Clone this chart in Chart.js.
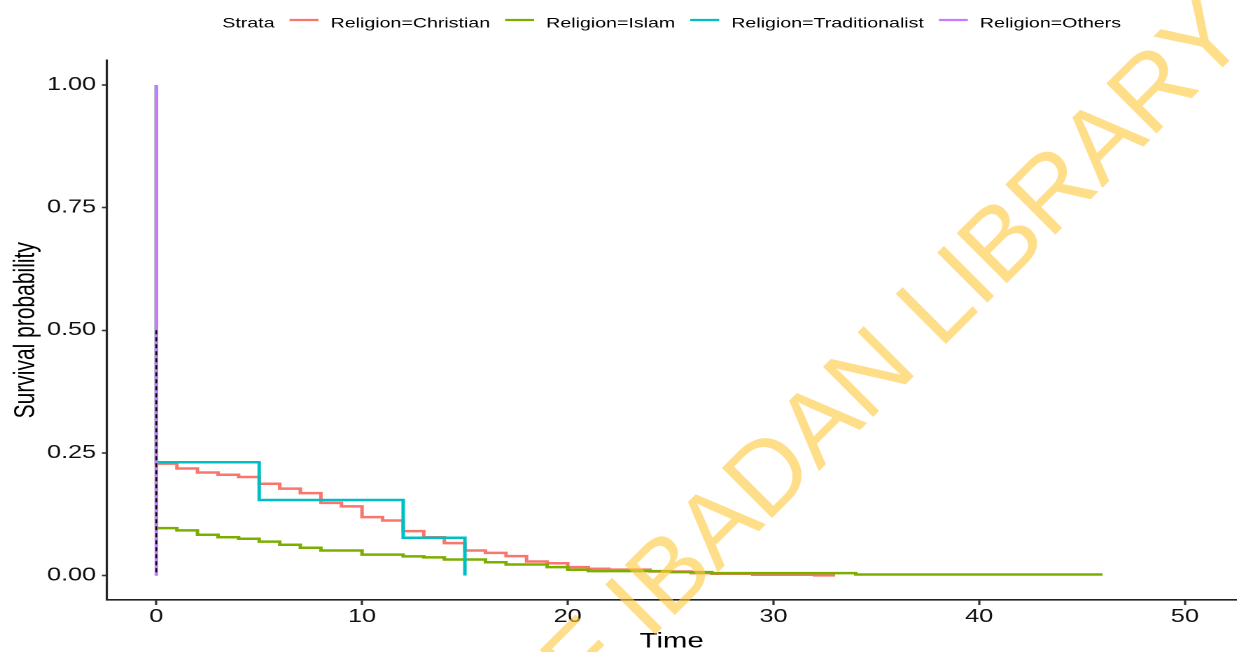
<!DOCTYPE html>
<html><head><meta charset="utf-8">
<script src="https://cdn.jsdelivr.net/npm/chart.js@4.4.1/dist/chart.umd.min.js"></script>
<style>
html,body{margin:0;padding:0;background:#fff;overflow:hidden;width:1238px;height:652px;}
#wrap{position:absolute;left:0;top:0;width:884.2857px;height:652px;transform:scaleX(1.4);transform-origin:0 0;}
</style></head><body>
<div id="wrap"><canvas id="c"></canvas></div>
<script>
// ---- data ----
const seriesNames = ['Religion=Christian', 'Religion=Islam', 'Religion=Traditionalist', 'Religion=Others'];
const seriesColors = ['#F8766D', '#7CAE00', '#00BFC4', '#C77CFF'];
const legendTitle = 'Strata';

const christianTime = [0, 0, 1, 2, 3, 4, 5, 6, 7, 8, 9, 10, 11, 12, 13, 14, 15, 16, 17, 18, 19, 20, 21, 22, 24, 26, 27, 29, 32, 33];
const christianSurv = [1, 0.228, 0.218, 0.210, 0.2055, 0.2007, 0.187, 0.177, 0.168, 0.148, 0.141, 0.119, 0.112, 0.0905, 0.078, 0.066, 0.051, 0.046, 0.0394, 0.0286, 0.025, 0.017, 0.0136, 0.012, 0.008, 0.0047, 0.0035, 0.0014, 0.0003, 0.0003];

const islamTime = [0, 0, 1, 2, 3, 4, 5, 6, 7, 8, 10, 12, 13, 14, 16, 17, 19, 20, 21, 25, 27, 34, 46];
const islamSurv = [1, 0.0966, 0.092, 0.083, 0.078, 0.075, 0.069, 0.0626, 0.0565, 0.051, 0.0425, 0.039, 0.037, 0.0327, 0.027, 0.0224, 0.017, 0.0116, 0.0088, 0.0068, 0.0047, 0.002, 0.002];

const tradTime = [0, 0, 5, 12, 15];
const tradSurv = [1, 0.2308, 0.1538, 0.0769, 0];

const othersTime = [0, 0];
const othersSurv = [1, 0];

const medianTime = [0, 0];
const medianSurv = [0.5, 0];

const xTickValues = [0, 10, 20, 30, 40, 50];
const xTickLabels = ['0', '10', '20', '30', '40', '50'];
const yTickValues = [0, 0.25, 0.5, 0.75, 1];
const yTickLabels = ['0.00', '0.25', '0.50', '0.75', '1.00'];
const xTitle = 'Time';
const yTitle = 'Survival probability';
const watermarkA = 'UNIVERSITY OF IBADAN ';
const watermarkB = 'LIBRARY';

// ---- rendering ----
const S = 1.4;
const FONT = '"Liberation Sans", Arial, sans-serif';
const toPts = (xs, ys) => xs.map((x, i) => ({x: x, y: ys[i]}));

const allSeries = [
  toPts(christianTime, christianSurv),
  toPts(islamTime, islamSurv),
  toPts(tradTime, tradSurv),
  toPts(othersTime, othersSurv)
];

const datasets = allSeries.map((pts, i) => ({
  label: seriesNames[i],
  data: pts,
  borderColor: seriesColors[i],
  backgroundColor: seriesColors[i],
  borderWidth: 2.5,
  pointRadius: 0,
  stepped: 'before',
  fill: false,
  order: 4 - i
}));
datasets.push({
  label: 'median',
  data: toPts(medianTime, medianSurv),
  borderColor: '#000',
  borderWidth: 1.2,
  borderDash: [4, 3],
  pointRadius: 0,
  fill: false,
  order: 0
});

const legendPlugin = {
  id: 'stratalegend',
  afterDraw(chart) {
    const ctx = chart.ctx;
    const ca = chart.chartArea;
    ctx.save();
    ctx.font = '14px ' + FONT;
    ctx.textBaseline = 'alphabetic';
    ctx.textAlign = 'left';
    const gapA = 10.7, lineW = 20.7, gapB = 8.6;
    let total = ctx.measureText(legendTitle).width;
    seriesNames.forEach(n => { total += gapA + lineW + gapB + ctx.measureText(n).width; });
    let x = (ca.left + ca.right) / 2 - total / 2;
    const by = 27.3, ly = 20;
    ctx.fillStyle = '#000';
    ctx.fillText(legendTitle, x, by);
    x += ctx.measureText(legendTitle).width;
    seriesNames.forEach((n, i) => {
      x += gapA;
      ctx.strokeStyle = seriesColors[i];
      ctx.lineWidth = 2.2;
      ctx.beginPath(); ctx.moveTo(x, ly); ctx.lineTo(x + lineW, ly); ctx.stroke();
      x += lineW + gapB;
      ctx.fillStyle = '#000';
      ctx.fillText(n, x, by);
      x += ctx.measureText(n).width;
    });
    ctx.restore();
  }
};

const watermarkPlugin = {
  id: 'watermark',
  afterDraw(chart) {
    const ctx = chart.ctx;
    ctx.save();
    ctx.scale(1 / S, 1);
    ctx.translate(940, 350);
    ctx.rotate(-Math.PI / 4);
    ctx.font = '103px ' + FONT;
    ctx.fillStyle = 'rgba(255,200,60,0.6)';
    ctx.textBaseline = 'alphabetic';
    ctx.textAlign = 'right';
    ctx.fillText(watermarkA, 0, 0);
    ctx.textAlign = 'left';
    ctx.fillText(watermarkB, 0, 0);
    ctx.restore();
  }
};

new Chart(document.getElementById('c'), {
  type: 'line',
  data: { datasets: datasets },
  options: {
    responsive: true,
    maintainAspectRatio: false,
    devicePixelRatio: 2,
    animation: false,
    layout: { padding: { top: 60.5, right: 0.7, left: 0, bottom: 0 } },
    plugins: { legend: { display: false }, tooltip: { enabled: false } },
    elements: { line: { tension: 0, borderCapStyle: 'butt' } },
    scales: {
      x: {
        type: 'linear',
        min: -2.4, max: 52.5,
        afterFit(scale) { scale.height = 52; },
        afterBuildTicks(scale) { scale.ticks = xTickValues.map(v => ({ value: v })); },
        ticks: {
          callback: (v) => xTickLabels[xTickValues.indexOf(v)],
          font: { size: 18, family: FONT },
          color: '#111',
          padding: 1,
          maxRotation: 0,
          autoSkip: false
        },
        grid: { drawOnChartArea: false, drawTicks: true, tickLength: 5, tickColor: '#333', tickWidth: 1.6 },
        border: { display: true, color: '#222', width: 1.6 },
        title: { display: true, text: xTitle, font: { size: 21, family: FONT, lineHeight: 1 }, color: '#000', padding: { top: 0, bottom: 0 } }
      },
      y: {
        type: 'linear',
        min: -0.05, max: 1.05,
        afterFit(scale) { scale.width = 76.4; },
        afterBuildTicks(scale) { scale.ticks = yTickValues.map(v => ({ value: v })); },
        ticks: {
          callback: (v) => yTickLabels[yTickValues.indexOf(v)],
          font: { size: 18, family: FONT },
          color: '#111',
          padding: 4.2,
          autoSkip: false
        },
        grid: { drawOnChartArea: false, drawTicks: true, tickLength: 3.6, tickColor: '#333', tickWidth: 1.6 },
        border: { display: true, color: '#222', width: 1.6 },
        title: { display: true, text: yTitle, font: { size: 21, family: FONT, lineHeight: 1 }, color: '#000', padding: { top: 8.1, bottom: 0 } }
      }
    }
  },
  plugins: [legendPlugin, watermarkPlugin]
});
</script>
</body></html>
